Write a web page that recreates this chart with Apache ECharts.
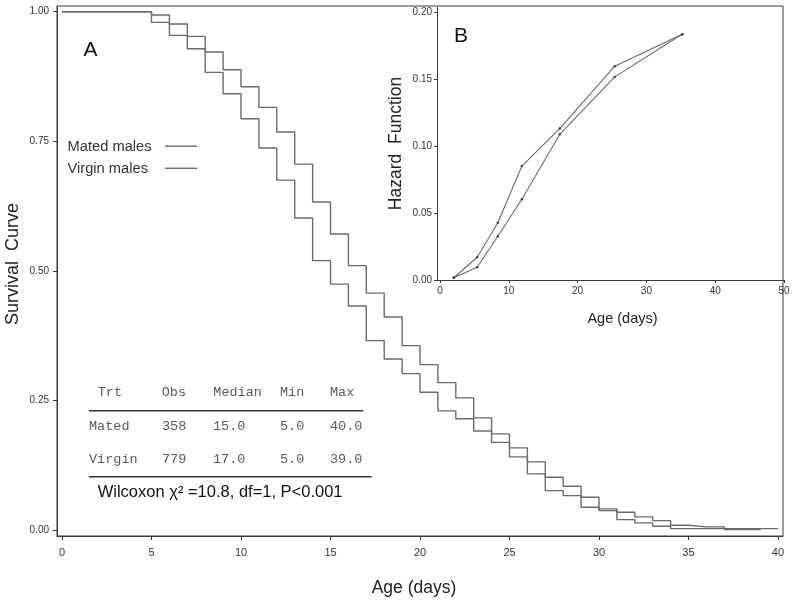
<!DOCTYPE html>
<html>
<head>
<meta charset="utf-8">
<script src="https://cdn.jsdelivr.net/npm/echarts@6/dist/echarts.min.js"></script>
<style>
html,body{margin:0;padding:0;background:#fff;}
#chart{width:795px;height:600px;}
</style>
</head>
<body>
<div id="chart"></div>
<script>
// ---- Panel A: Kaplan-Meier survival (step at each day) ----
const days = [0,5,6,7,8,9,10,11,12,13,14,15,16,17,18,19,20,21,22,23,24,25,26,27,28,29,30,31,32,33,34,35,36,37,38,39,40];
const matedSurv = [1,0.9794,0.9543,0.9287,0.8830,0.8419,0.7937,0.7372,0.6752,0.6023,0.5200,0.4747,0.4326,0.3657,0.3304,0.3021,0.2661,0.2302,0.2150,0.1916,0.1695,0.1415,0.1087,0.0765,0.0669,0.0443,0.0380,0.0206,0.0143,0.0077,0.0033,0.0033,0.0033,0.0033,0.0033,0.0033,0.0033];
const virginSurv = [1,0.9936,0.9763,0.9524,0.9223,0.8882,0.8554,0.8155,0.7681,0.7061,0.6331,0.5714,0.5103,0.4573,0.4114,0.3561,0.3195,0.2848,0.2553,0.2167,0.1859,0.1589,0.1319,0.1022,0.0848,0.0636,0.0413,0.0347,0.0258,0.0187,0.0096,0.0066,0.0066,0.0015,0.0015,0,null];
const survTicks = [0,0.25,0.5,0.75,1];
const ageTicks = [0,5,10,15,20,25,30,35,40];
const seriesNames = ['Mated males','Virgin males'];

// ---- Panel B: hazard function ----
const hazardAge = [2.0,5.4,8.4,11.9,17.4,25.4,35.2];
const matedHazard = [0.0017,0.0170,0.0429,0.0853,0.1133,0.1600,0.1839];
const virginHazard = [0.0017,0.0095,0.0327,0.0604,0.1090,0.1520,0.1839];
const hazardTicks = [0,0.05,0.10,0.15,0.20];
const hazAgeTicks = [0,10,20,30,40,50];

// ---- Summary table ----
const tableHeader = ['Trt','Obs','Median','Min','Max'];
const tableRows = [
  ['Mated','358','15.0','5.0','40.0'],
  ['Virgin','779','17.0','5.0','39.0']
];
const testText = 'Wilcoxon \u03c7\u00b2 =10.8, df=1, P<0.001';

const FONT = '"Liberation Sans", Arial, sans-serif';
const MONO = '"Liberation Mono", "Courier New", monospace';
const LINE = '#6a6a6a';
const AXIS = '#3a3a3a';

function pairs(xs, ys){
  const out = [];
  for (let i = 0; i < xs.length; i++) if (ys[i] !== null && ys[i] !== undefined) out.push([xs[i], ys[i]]);
  return out;
}

const headerX = [97.7,161.7,213.3,280,330];
const rowX = [89,162,213,280,330];
const rowY = [426.7,459.3];
const graphics = [];
tableHeader.forEach((t,i)=>graphics.push({type:'text', x:headerX[i], y:392.7,
  style:{text:t, font:'13.5px '+MONO, fill:'#5a5a5a', verticalAlign:'middle'}}));
tableRows.forEach((row,r)=>row.forEach((t,i)=>graphics.push({type:'text', x:rowX[i], y:rowY[r],
  style:{text:t, font:'13.5px '+MONO, fill:'#5a5a5a', verticalAlign:'middle'}})));
graphics.push({type:'line', shape:{x1:89,y1:410.7,x2:363,y2:410.7}, style:{stroke:'#333',lineWidth:1.5}});
graphics.push({type:'line', shape:{x1:89,y1:476.7,x2:371.7,y2:476.7}, style:{stroke:'#333',lineWidth:1.5}});
graphics.push({type:'text', x:97.7, y:492.7, style:{text:testText, font:'16.5px '+FONT, fill:'#111', verticalAlign:'middle'}});
graphics.push({type:'text', x:90.5, y:50, style:{text:'A', font:'21px '+FONT, fill:'#111', align:'center', verticalAlign:'middle'}});
graphics.push({type:'text', x:461, y:36, style:{text:'B', font:'21px '+FONT, fill:'#111', align:'center', verticalAlign:'middle'}});
// legend (text followed by a line sample, as in the original)
const legendY = [146.7,168.8];
seriesNames.forEach((n,i)=>{
  graphics.push({type:'text', x:67.5, y:legendY[i], style:{text:n, font:'14.7px '+FONT, fill:'#333', verticalAlign:'middle'}});
  graphics.push({type:'line', shape:{x1:165,y1:legendY[i]-0.5,x2:197,y2:legendY[i]-0.5}, style:{stroke:LINE,lineWidth:1.4}});
});

const chart = echarts.init(document.getElementById('chart'), null, {renderer:'canvas'});
chart.setOption({
  animation:false,
  backgroundColor:'#fff',
  textStyle:{fontFamily:FONT},
  grid:[
    {left:57, top:6, width:726, height:530, show:true, borderColor:AXIS, borderWidth:1, containLabel:false, outerBoundsMode:'none'},
    {left:437, top:7, width:347, height:273, show:false, containLabel:false, outerBoundsMode:'none'}
  ],
  xAxis:[
    {gridIndex:0, type:'value', min:-0.28, max:40.28,
     name:'Age (days)', nameLocation:'middle', nameGap:43, nameMoveOverlap:false,
     nameTextStyle:{fontSize:17.5, color:'#222', padding:[0,12,0,0]},
     axisLine:{show:true, onZero:false, lineStyle:{color:AXIS}},
     axisTick:{show:true, length:4, customValues:ageTicks, lineStyle:{color:AXIS}},
     axisLabel:{show:true, customValues:ageTicks, fontSize:11, color:'#333', margin:11},
     splitLine:{show:false}},
    {gridIndex:1, type:'value', min:-0.44, max:50,
     name:'Age (days)', nameLocation:'middle', nameGap:31, nameMoveOverlap:false,
     nameTextStyle:{fontSize:14.5, color:'#222', padding:[0,0,0,24]},
     axisLine:{show:true, onZero:false, lineStyle:{color:AXIS}},
     axisTick:{show:true, length:3, customValues:hazAgeTicks, lineStyle:{color:AXIS}},
     axisLabel:{show:true, customValues:hazAgeTicks, fontSize:10, color:'#333', margin:6},
     splitLine:{show:false}}
  ],
  yAxis:[
    {gridIndex:0, type:'value', min:-0.011, max:1.011,
     name:'Survival  Curve', nameLocation:'middle', nameGap:35, nameRotate:90, nameMoveOverlap:false,
     nameTextStyle:{fontSize:18, color:'#222', padding:[0,0,0,14]},
     axisLine:{show:true, onZero:false, lineStyle:{color:AXIS}},
     axisTick:{show:true, length:4, customValues:survTicks, lineStyle:{color:AXIS}},
     axisLabel:{show:true, customValues:survTicks, fontSize:10, color:'#333', margin:8,
       formatter:v=>v.toFixed(2)},
     splitLine:{show:false}},
    {gridIndex:1, type:'value', min:0, max:0.2043,
     name:'Hazard  Function', nameLocation:'middle', nameGap:32, nameRotate:90,
     nameTextStyle:{fontSize:17.5, color:'#222'},
     axisLine:{show:true, onZero:false, lineStyle:{color:AXIS}},
     axisTick:{show:true, length:3, customValues:hazardTicks, lineStyle:{color:AXIS}},
     axisLabel:{show:true, customValues:hazardTicks, fontSize:10, color:'#333', margin:5,
       formatter:v=>v.toFixed(2)},
     splitLine:{show:false}}
  ],
  series:[
    {name:seriesNames[0], type:'line', step:'end', xAxisIndex:0, yAxisIndex:0,
     data:pairs(days, matedSurv), showSymbol:false, symbol:'none',
     lineStyle:{color:LINE, width:1.4}, itemStyle:{color:LINE}},
    {name:seriesNames[1], type:'line', step:'end', xAxisIndex:0, yAxisIndex:0,
     data:pairs(days, virginSurv), showSymbol:false, symbol:'none',
     lineStyle:{color:LINE, width:1.4}, itemStyle:{color:LINE}},
    {name:'Mated hazard', type:'line', xAxisIndex:1, yAxisIndex:1,
     data:pairs(hazardAge, matedHazard), symbol:'circle', symbolSize:2.5,
     lineStyle:{color:LINE, width:1.1}, itemStyle:{color:'#444'}},
    {name:'Virgin hazard', type:'line', xAxisIndex:1, yAxisIndex:1,
     data:pairs(hazardAge, virginHazard), symbol:'circle', symbolSize:2.5,
     lineStyle:{color:LINE, width:1.1}, itemStyle:{color:'#444'}}
  ],
  graphic:graphics
});
</script>
</body>
</html>
